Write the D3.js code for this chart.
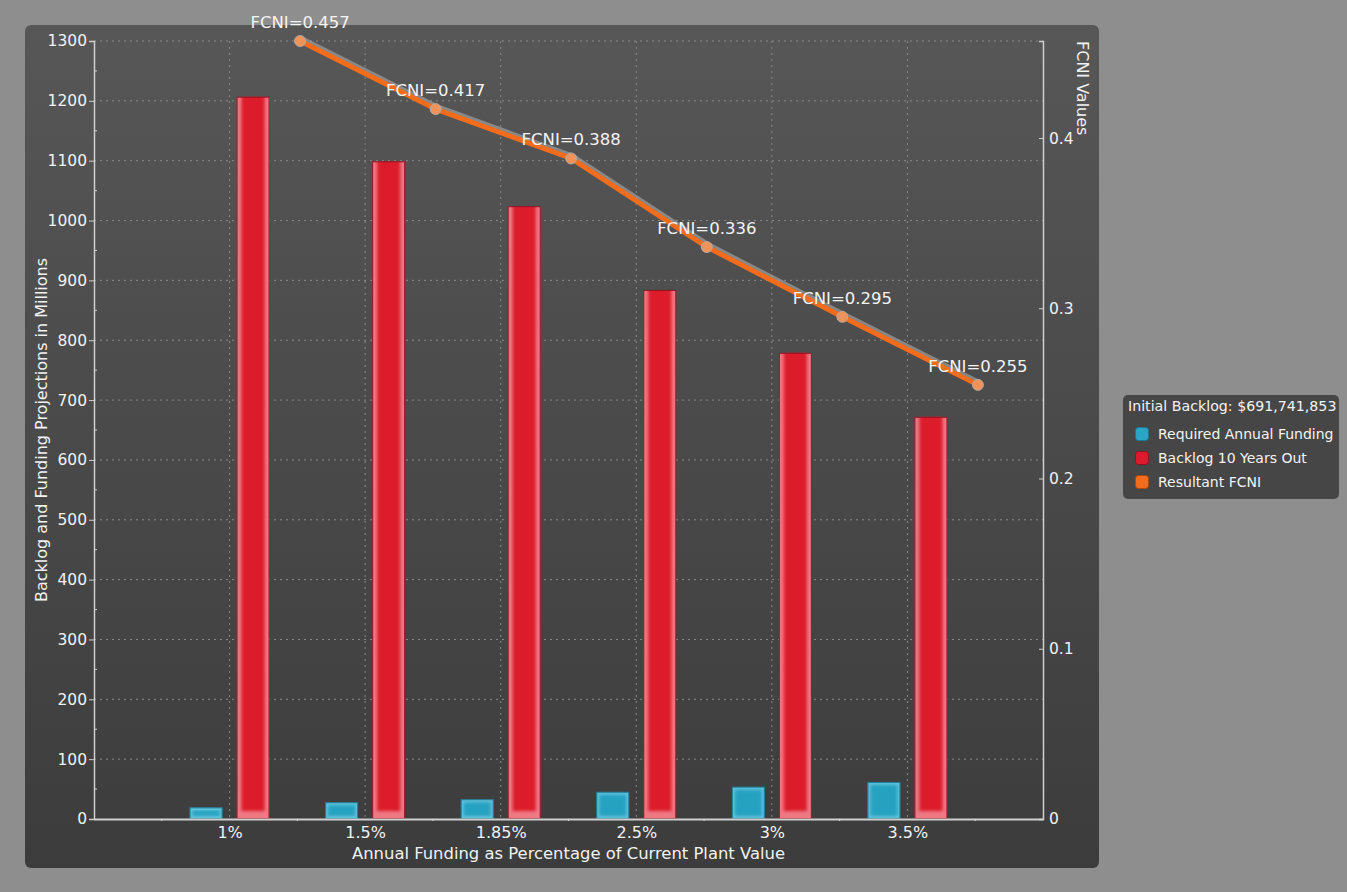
<!DOCTYPE html>
<html><head><meta charset="utf-8">
<script src="https://cdn.jsdelivr.net/npm/d3@7"></script>
<style>
html,body{margin:0;padding:0;background:#8e8e8e;}
svg{display:block;font-family:"DejaVu Sans",sans-serif;}
</style></head>
<body>
<svg id="chart" width="1347" height="892"></svg>
<script>
const categories = ["1%","1.5%","1.85%","2.5%","3%","3.5%"];
const requiredFunding = [19.5, 28, 33, 45.5, 54, 62];
const backlog = [1207, 1099, 1024, 884, 779, 672];
const fcni = [0.457, 0.417, 0.388, 0.336, 0.295, 0.255];
const leftTicks = [0,100,200,300,400,500,600,700,800,900,1000,1100,1200,1300];
const rightTicks = [0,0.1,0.2,0.3,0.4];
const seriesNames = ["Required Annual Funding","Backlog 10 Years Out","Resultant FCNI"];
const legendTitle = "Initial Backlog: $691,741,853";

const svg = d3.select("#chart");
const L = 94, R = 1043, T = 41, B = 819;

const defs = svg.append("defs");
const pg = defs.append("linearGradient").attr("id","panelG").attr("x1",0).attr("y1",0).attr("x2",0).attr("y2",1);
pg.append("stop").attr("offset","0%").attr("stop-color","#575757");
pg.append("stop").attr("offset","100%").attr("stop-color","#3c3c3c");
const blur = defs.append("filter").attr("id","soft").attr("x","-20%").attr("y","-5%").attr("width","140%").attr("height","110%");
blur.append("feGaussianBlur").attr("stdDeviation",1.6);

// panel
svg.append("rect").attr("x",25).attr("y",25).attr("width",1074).attr("height",843)
  .attr("rx",6).attr("fill","url(#panelG)");

const x = d3.scalePoint().domain(categories).range([L,R]).padding(1);
const step = x.step();
const sub = d3.scaleBand().domain(seriesNames).range([-0.3467*step, 0.6933*step]);
const y = d3.scaleLinear().domain([0,1300]).range([B,T]);
const y2 = d3.scaleLinear().domain([0,0.457]).range([B,T]);

// grid
const grid = svg.append("g");
grid.selectAll("line.h").data(leftTicks.filter(d=>d>0)).join("line")
  .attr("x1",L).attr("x2",R).attr("y1",d=>y(d)).attr("y2",d=>y(d))
  .attr("stroke","#8a8a8a").attr("stroke-dasharray","2,4");
grid.selectAll("line.v").data(categories).join("line")
  .attr("x1",d=>x(d)).attr("x2",d=>x(d)).attr("y1",T).attr("y2",B)
  .attr("stroke","#8a8a8a").attr("stroke-dasharray","2,4");

// bars
const bw = 33;
function drawBars(vals, name, edge, base, stroke, topInset, ins, bi){
  const g = svg.append("g");
  const key = name.replace(/\W/g,"");
  vals.forEach((v,i)=>{
    const cx = x(categories[i]) + sub(name) + sub.bandwidth()/2;
    const x0 = cx - bw/2, yt = y(v), h = B - y(v);
    const gg = g.append("g");
    gg.append("clipPath").attr("id",`clip-${key}-${i}`)
      .append("rect").attr("x",x0).attr("y",yt).attr("width",bw).attr("height",h);
    const inner = gg.append("g").attr("clip-path",`url(#clip-${key}-${i})`);
    inner.append("rect").attr("x",x0).attr("y",yt).attr("width",bw).attr("height",h).attr("fill",edge);
    const ti = topInset ? ins : -4;
    inner.append("rect").attr("x",x0+ins).attr("y",yt+ti)
      .attr("width",bw-2*ins).attr("height",Math.max(0,h-bi-ti))
      .attr("fill",base).attr("filter","url(#soft)");
    gg.append("rect").attr("x",x0+0.5).attr("y",yt+0.5).attr("width",bw-1).attr("height",Math.max(0,h-1))
      .attr("fill","none").attr("stroke",stroke).attr("stroke-width",1);
  });
}
drawBars(requiredFunding, seriesNames[0], "#5fc3dc", "#27a2c1", "#1d7791", true, 3, 3);
drawBars(backlog, seriesNames[1], "#ee7883", "#dc1a2c", "#8c1422", false, 5, 8);

// axes
const axisCol = "#cfcfcf";
const gl = svg.append("g").attr("transform",`translate(${L},0)`)
  .call(d3.axisLeft(y).tickValues(leftTicks).tickSize(5).tickPadding(2).tickFormat(d3.format("d")));
gl.select(".domain").attr("stroke",axisCol).attr("stroke-width",1.5);
gl.selectAll(".tick line").attr("stroke",axisCol);
gl.selectAll(".tick text").attr("fill","#f2f2f2").style("font-size","15.5px").style("font-family","DejaVu Sans");
// minor left ticks
svg.append("g").selectAll("line").data(leftTicks.slice(0,-1).map(d=>d+50)).join("line")
  .attr("x1",L).attr("x2",L+3).attr("y1",d=>y(d)).attr("y2",d=>y(d)).attr("stroke",axisCol);

const gr = svg.append("g").attr("transform",`translate(${R},0)`)
  .call(d3.axisRight(y2).tickValues(rightTicks).tickSize(-4).tickPadding(6).tickFormat(d=>d===0?"0":d3.format("")(d)));
gr.select(".domain").attr("stroke",axisCol).attr("stroke-width",1.5);
gr.selectAll(".tick line").attr("stroke",axisCol);
gr.selectAll(".tick text").attr("fill","#f2f2f2").style("font-size","15.5px").style("font-family","DejaVu Sans");

const gb = svg.append("g").attr("transform",`translate(0,${B})`)
  .call(d3.axisBottom(x).tickSize(0).tickPadding(8));
gb.select(".domain").attr("stroke",axisCol).attr("stroke-width",2);
gb.selectAll(".tick text").attr("fill","#f2f2f2").style("font-size","16px").style("font-family","DejaVu Sans");
// bottom minor dots
svg.append("g").selectAll("line").data(d3.range(0,7)).join("line")
  .attr("x1",d=>L+step*(d+0.5)).attr("x2",d=>L+step*(d+0.5)).attr("y1",B).attr("y2",B+2)
  .attr("stroke","#dddddd");

// axis titles
svg.append("text").attr("transform",`translate(47,${(T+B)/2}) rotate(-90)`)
  .attr("text-anchor","middle").attr("fill","#f2f2f2").style("font-size","16px")
  .text("Backlog and Funding Projections in Millions");
svg.append("text").attr("transform",`translate(1077,${T}) rotate(90)`)
  .attr("text-anchor","start").attr("fill","#f2f2f2").style("font-size","16px")
  .text("FCNI Values");
svg.append("text").attr("x",(L+R)/2).attr("y",859)
  .attr("text-anchor","middle").attr("fill","#f2f2f2").style("font-size","16.4px")
  .text("Annual Funding as Percentage of Current Plant Value");

// line
const px = (d,i)=> x(categories[i]) + sub(seriesNames[2]) + sub.bandwidth()/2;
const line = d3.line().x(px).y(d=>y2(d));
svg.append("path").datum(fcni).attr("d",line).attr("transform","translate(1,-2)")
  .attr("fill","none").attr("stroke","#a0a0a0").attr("stroke-opacity",0.7).attr("stroke-width",6);
svg.append("path").datum(fcni).attr("d",line)
  .attr("fill","none").attr("stroke","#f36c1c").attr("stroke-width",5).attr("stroke-linejoin","round");
svg.append("g").selectAll("circle").data(fcni).join("circle")
  .attr("cx",px).attr("cy",d=>y2(d)).attr("r",5.5)
  .attr("fill","#f0935a").attr("stroke","#b0a9a4").attr("stroke-width",1);
svg.append("g").selectAll("text").data(fcni).join("text")
  .attr("x",px).attr("y",d=>y2(d)-13).attr("text-anchor","middle")
  .attr("fill","#f4f4f4").style("font-size","16.5px")
  .text(d=>"FCNI="+d3.format(".3f")(d));

// legend
const lg = svg.append("g");
lg.append("rect").attr("x",1123).attr("y",395).attr("width",216).attr("height",104).attr("rx",5).attr("fill","#464646");
lg.append("text").attr("x",1128).attr("y",411).attr("fill","#f4f4f4").style("font-size","14.2px").text(legendTitle);
const swatch = [["#2aa5c4","#1d7791"],["#dc1a2c","#8c1422"],["#f36c1c","#a84a12"]];
seriesNames.forEach((n,i)=>{
  const yy = 427 + i*24;
  lg.append("rect").attr("x",1135.5).attr("y",yy+0.5).attr("width",13).attr("height",13).attr("rx",3)
    .attr("fill",swatch[i][0]).attr("stroke",swatch[i][1]);
  lg.append("text").attr("x",1158).attr("y",yy+11.5).attr("fill","#f4f4f4").style("font-size","14px").text(n);
});
</script>
</body></html>
